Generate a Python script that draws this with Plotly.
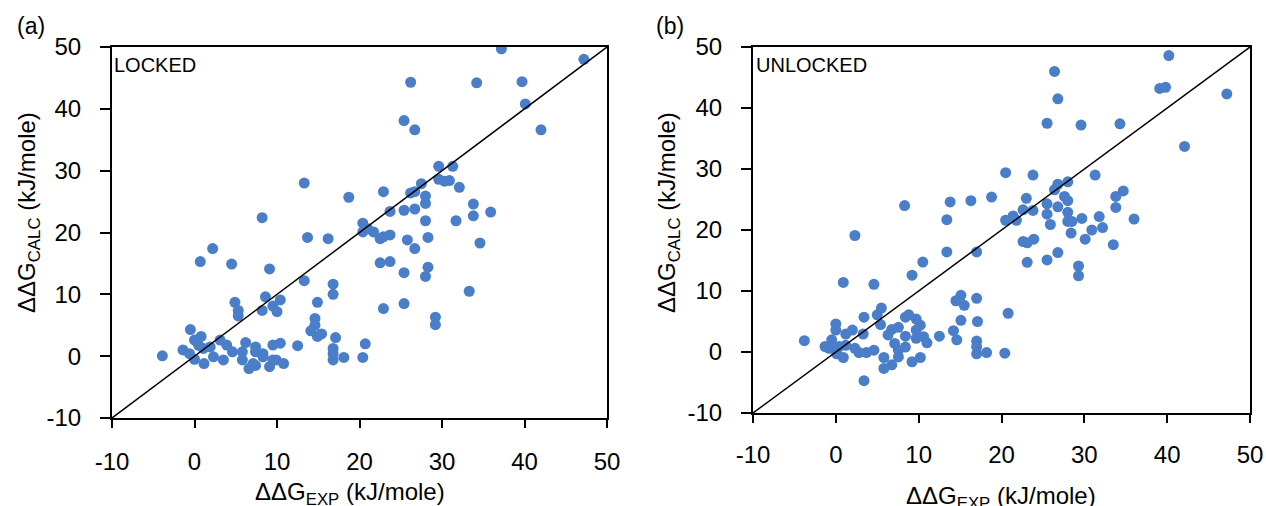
import plotly.graph_objects as go

# Axis range and tick values shared by both panels (kJ/mole)
axis_ticks = [-10, 0, 10, 20, 30, 40, 50]

# Panel (a): LOCKED
locked_exp = [13.3, 18.7, 8.2, 13.7, 16.2, 37.2, 47.2, 26.2, 34.2, 39.7, 40.1, 25.4, 26.7, 42.0,
              29.6, 31.3, 29.6, 30.3, 30.9, 32.1, 27.5, 22.9, 26.2, 26.7, 28.0, 28.0, 33.8, 33.8,
              35.9, 25.4, 26.7, 23.7, 28.0, 31.7, 20.4, 21.0, 21.7, 20.4, 22.5, 22.9, 23.7, 25.8,
              26.7, 28.3, 34.6, 22.5, 23.7, 25.4, 28.3, 28.0, 33.3, 22.9, 25.4, 29.2, 29.2, 20.7,
              20.4, 2.2, 0.7, 4.5, 9.1, 13.3, 16.8, 16.8, 14.9, 4.9, 5.3, 5.3, 8.6, 10.4, 9.5,
              10.0, 8.2, 14.6, 14.6, 14.1, 14.9, 15.4, 17.1, 16.8, 16.8, 16.8, 18.1, -3.9, -0.5,
              -1.4, -0.6, 0.0, 0.8, 0.5, 0.0, 1.15, 1.07, 1.9, 2.3, 3.1, 3.9, 3.5, 4.6, 6.2, 5.8,
              5.8, 6.6, 7.4, 7.1, 7.4, 7.4, 8.3, 8.3, 9.5, 10.4, 9.1, 9.5, 9.9, 10.8, 12.5]
locked_calc = [28.0, 25.7, 22.4, 19.2, 19.0, 49.7, 48.0, 44.3, 44.2, 44.4, 40.8, 38.1, 36.6, 36.6,
               30.7, 30.7, 28.6, 28.3, 28.4, 27.3, 27.9, 26.6, 26.4, 26.6, 25.9, 24.7, 24.6, 22.7,
               23.3, 23.6, 23.8, 23.4, 21.9, 21.9, 21.5, 20.6, 20.1, 20.1, 19.0, 19.3, 19.6, 18.8,
               17.4, 19.2, 18.3, 15.1, 15.3, 13.5, 14.4, 12.9, 10.5, 7.7, 8.5, 6.3, 5.1, 2.0,
               -0.2, 17.4, 15.3, 14.9, 14.1, 12.2, 11.65, 10.0, 8.7, 8.7, 7.4, 6.5, 9.6, 9.1, 8.1,
               7.2, 7.4, 6.1, 5.0, 4.1, 3.2, 3.6, 3.0, 1.25, 0.4, -0.6, -0.2, 0.05, 4.3,
               1.0, 0.4, 2.6, 3.2, 1.75, -0.5, -1.2, 1.25, 1.5, -0.1, 2.6, 1.8, -0.6, 0.7, 2.2, 0.7,
               -0.6, -2.0, -1.5, -1.2, 1.5, 0.7, 0.4, -0.1, 1.8, 2.1, -1.7, -0.6, -0.6, -1.2, 1.7]

# Panel (b): UNLOCKED
unlocked_exp = [2.3, 8.3, 13.8, 16.3, 18.8, 13.4, 40.2, 26.4, 26.8, 39.1, 39.8, 47.2, 25.5, 29.6,
                34.3, 42.1, 20.5, 23.8, 31.3, 23.0, 26.8, 28.0, 26.4, 27.6, 28.0, 25.5, 26.8, 33.8,
                34.7, 33.8, 36.0, 20.5, 21.4, 21.8, 22.6, 23.8, 25.5, 28.0, 28.0, 28.5, 29.7, 31.8,
                32.2, 30.9, 28.4, 25.9, 22.6, 23.1, 23.9, 30.1, 33.5, 23.1, 25.5, 26.8, 29.3, 29.3,
                20.8, 20.4, 13.4, 17.0, 10.5, 9.2, 0.9, 4.6, 15.1, 14.5, 15.5, 17.0, 15.1, 14.2,
                14.6, 17.1, 17.0, 17.0, 17.0, 18.2, 12.5, 5.5, 5.0, 5.4, 3.4, 0.0, 0.0, 1.2, 2.0,
                3.3, -3.8, -1.3, -0.5, -0.8, 0.4, 0.1, 0.9, 1.2, 2.3, 2.8, 3.7, 4.6, 3.4, 5.8, 5.8,
                6.75, 6.3, 6.75, 7.55, 7.1, 7.55, 7.55, 8.4, 8.4, 8.8, 8.4, 9.7, 10.2, 9.7, 9.7,
                10.6, 11.0, 9.2, 10.2]
unlocked_calc = [19.1, 24.0, 24.6, 24.8, 25.4, 21.7, 48.6, 46.0, 41.5, 43.2, 43.4, 42.3, 37.5, 37.2,
                 37.4, 33.7, 29.4, 29.0, 29.0, 25.2, 27.5, 27.9, 26.6, 25.5, 24.8, 24.3, 23.8, 25.5,
                 26.4, 23.7, 21.8, 21.6, 22.3, 21.6, 23.3, 23.2, 22.6, 22.9, 21.4, 21.4, 21.9, 22.2,
                 20.4, 20.0, 19.5, 20.9, 18.1, 17.9, 18.5, 18.5, 17.6, 14.7, 15.1, 16.3, 14.1, 12.5,
                 6.35, -0.2, 16.4, 16.4, 14.75, 12.6, 11.4, 11.1, 9.3, 8.4, 7.65, 8.8, 5.2, 3.5,
                 2.0, 5.0, 1.8, 0.87, -0.3, -0.1, 2.6, 7.2, 6.1, 4.5, 5.7, 4.6, 3.6, 2.95, 3.6,
                 2.95, 1.85, 0.9, 2.0, 0.6, 0.9, -0.3, -0.9, 1.1, 0.6, -0.1, -0.1, 0.3, -4.7, -0.9, -2.7,
                 -2.1, 2.8, 3.7, 4.05, 1.4, 0.3, -0.8, 2.6, 0.8, 6.1, 5.7, 5.4, 4.4, 3.6, 2.25,
                 2.5, 1.5, -1.6, -0.9]

W, H = 1266, 506
FONT = "Liberation Sans, Arial, sans-serif"
MARKER_COLOR = "#4A7EC8"

fig = go.Figure()

panels = [
    (locked_exp, locked_calc, "x", "y"),
    (unlocked_exp, unlocked_calc, "x2", "y2"),
]
for xs, ys, xa, ya in panels:
    fig.add_trace(go.Scatter(
        x=xs, y=ys, mode="markers", xaxis=xa, yaxis=ya,
        marker=dict(size=11, color=MARKER_COLOR, line=dict(width=0)),
        showlegend=False, hoverinfo="x+y",
    ))
    # identity line y = x across the full axis range
    fig.add_trace(go.Scatter(
        x=[axis_ticks[0], axis_ticks[-1]], y=[axis_ticks[0], axis_ticks[-1]],
        mode="lines", xaxis=xa, yaxis=ya,
        line=dict(color="black", width=1.5), showlegend=False, hoverinfo="skip",
    ))

axis_common = dict(
    range=[axis_ticks[0], axis_ticks[-1]],
    tickvals=axis_ticks,
    ticktext=[str(t) for t in axis_ticks],
    showgrid=False, zeroline=False,
    showline=True, linecolor="black", linewidth=2, mirror=True,
    ticks="outside", tickcolor="black", tickwidth=2,
    tickfont=dict(family=FONT, size=24, color="black"),
    automargin=False,
    fixedrange=True,
)

fig.update_layout(
    width=W, height=H,
    margin=dict(l=0, r=0, t=0, b=0, autoexpand=False),
    paper_bgcolor="white", plot_bgcolor="white",
    xaxis=dict(axis_common, domain=[112 / W, 607 / W], anchor="y", ticklen=8, ticklabelstandoff=13),
    yaxis=dict(axis_common, domain=[1 - 418 / H, 1 - 47 / H], anchor="x", ticklen=10, ticklabelstandoff=14),
    xaxis2=dict(axis_common, domain=[753 / W, 1250 / W], anchor="y2", ticklen=8, ticklabelstandoff=11),
    yaxis2=dict(axis_common, domain=[1 - 413 / H, 1 - 47 / H], anchor="x2", ticklen=10, ticklabelstandoff=14),
)

title_font = dict(family=FONT, size=24, color="black")
ann = []
# y-axis titles
for xc in (28, 668):
    ann.append(dict(text="ΔΔG<sub>CALC</sub> (kJ/mole)", x=xc / W, y=1 - 213 / H,
                    xref="paper", yref="paper", xanchor="center", yanchor="middle",
                    textangle=-90, showarrow=False, font=title_font))
# x-axis titles
for xc, yc in ((350, 493), (1001, 497)):
    ann.append(dict(text="ΔΔG<sub>EXP</sub> (kJ/mole)", x=xc / W, y=1 - yc / H,
                    xref="paper", yref="paper", xanchor="center", yanchor="middle",
                    showarrow=False, font=title_font))
# panel letters
for lbl, xc in (("(a)", 31), ("(b)", 670)):
    ann.append(dict(text=lbl, x=xc / W, y=1 - 26 / H, xref="paper", yref="paper",
                    xanchor="center", yanchor="middle", showarrow=False,
                    font=dict(family=FONT, size=23, color="black")))
# panel tags inside the plot areas
for lbl, xl in (("LOCKED", 112), ("UNLOCKED", 754)):
    ann.append(dict(text=lbl, x=xl / W, y=1 - 52 / H, xref="paper", yref="paper",
                    xanchor="left", yanchor="top", showarrow=False,
                    font=dict(family=FONT, size=20, color="black")))
fig.update_layout(annotations=ann)

fig.write_html("out.html")
